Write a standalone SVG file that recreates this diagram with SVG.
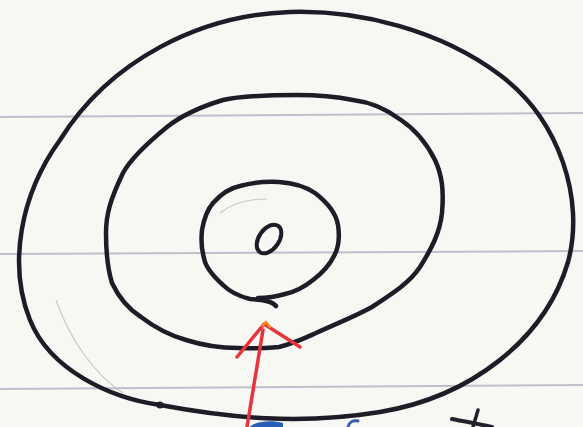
<svg xmlns="http://www.w3.org/2000/svg" width="583" height="427" viewBox="0 0 583 427">
  <style>
    .ink{fill:none;stroke:#1e1c26;stroke-width:4.5;stroke-linecap:round;stroke-linejoin:round}
    .rule{fill:none;stroke:#bcc0c9;stroke-width:2}
    .faint{fill:none;stroke:#c9c9cc;stroke-width:1.2}
    .red{fill:none;stroke:#e8333c;stroke-width:3.5;stroke-linecap:round;stroke-linejoin:round}
  </style>
  <rect width="583" height="427" fill="#f7f8f4"/>
  <g id="paper">
    <path class="rule" d="M0 117 L583 113"/>
    <path class="rule" d="M0 254 L583 251"/>
    <path class="rule" d="M0 389 L583 385"/>
  </g>
  <g id="outer-ring">
    <path class="ink" d="M160 405 C230 418 300 425 380 412 C470 397 545 340 568 262 C585 200 560 120 500 75 C440 30 360 10 290 12 C200 15 110 60 60 140 C20 195 8 265 30 320 C50 370 110 398 160 405"/>
    <circle cx="160" cy="405" r="3.5" fill="#1e1c26"/>
    <path class="faint" d="M56 300 C70 340 95 375 123 393"/>
  </g>
  <g id="middle-ring">
    <path class="ink" d="M297 95 C265 95 240 96 223 100 C200 107 182 115 167 127 C145 145 130 160 123 173 C110 200 106 215 106 233 C106 255 108 270 112 283 C120 300 130 310 141 317 C158 330 172 336 186 340 C205 346 222 348 238 348 C255 349 268 348 279 347 C295 343 305 338 316 333 C340 322 356 316 372 307 C395 292 410 282 420 267 C432 248 440 232 442 213 C444 190 442 175 435 160 C426 142 416 130 401 120 C385 108 370 102 353 100 C333 96 315 95 297 95"/>
  </g>
  <g id="inner-spiral">
    <path class="ink" d="M276 306 C272 301 262 300 250 299 C238 296 230 292 223 285 C212 275 205 266 204 258 C201 248 201 240 202 230 C204 218 207 210 213 203 C222 193 230 188 240 186 C255 182 266 181 279 182 C295 183 306 187 315 193 C328 203 336 213 338 225 C340 238 339 247 334 256 C328 268 321 274 313 280 C303 288 295 292 285 294 C275 297 266 298 258 298"/>
    <path class="faint" d="M220 213 C232 203 248 199 267 199"/>
  </g>
  <g id="center-dot">
    <ellipse class="ink" cx="269" cy="239" rx="10" ry="16" transform="rotate(35 269 239)" style="stroke-width:4"/>
  </g>
  <g id="connectors">
    <path class="red" d="M247 427 L263 330"/>
    <path class="red" d="M237 357 L264 324 L300 347"/>
    <path d="M262 326 L266 322 L270 327" fill="none" stroke="#f08a2a" stroke-width="2.5" stroke-linecap="round"/>
  </g>
  <g id="marks">
    <path d="M250 427 C255 421 272 420 283 423 L283 427 Z" fill="#2a5fb8"/>
    <path d="M348 427 C349 422 353 420 358 421" fill="none" stroke="#3a5fa8" stroke-width="3" stroke-linecap="round"/>
    <path d="M452 419 C462 421 478 424 492 427" fill="none" stroke="#23222c" stroke-width="4" stroke-linecap="round"/>
    <path d="M478 410 L473 427" fill="none" stroke="#23222c" stroke-width="3.5" stroke-linecap="round"/>
  </g>
</svg>
